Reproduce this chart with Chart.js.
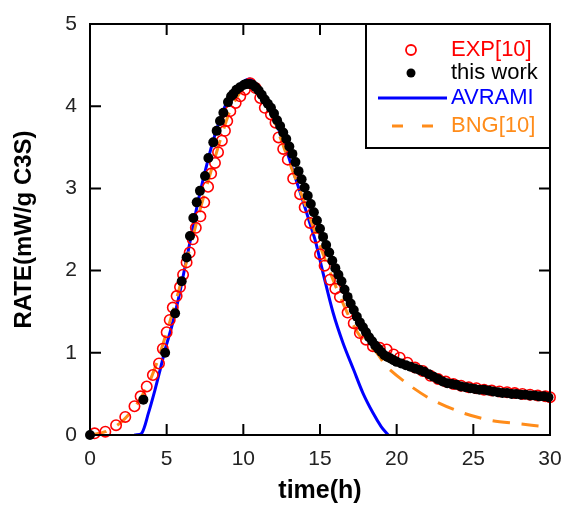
<!DOCTYPE html>
<html>
<head>
<meta charset="utf-8">
<script src="https://cdn.jsdelivr.net/npm/chart.js"></script>
<style>
  html, body { margin: 0; padding: 0; background: #fff; }
  #wrap { width: 563px; height: 506px; }
</style>
</head>
<body>
<div id="wrap"><canvas id="rateChart" width="563" height="506"></canvas></div>
<script>
// datos (t en h, rate en mW/g C3S)
const expT = [0.3, 1.0, 1.7, 2.3, 2.9, 3.3, 3.7, 4.1, 4.5, 4.75, 5.0, 5.2, 5.4, 5.65, 5.87, 6.07, 6.3, 6.5, 6.7, 6.9, 7.2, 7.45, 7.7, 7.9, 8.15, 8.35, 8.6, 8.8, 8.95, 9.15, 9.5, 9.8, 10.1, 10.45, 10.8, 11.1, 11.4, 11.8, 12.1, 12.3, 12.6, 12.9, 13.25, 13.7, 14.0, 14.35, 14.7, 15.0, 15.3, 15.65, 16.0, 16.3, 16.8, 17.2, 17.6, 18.0, 18.45, 18.9, 19.35, 19.8, 20.2, 20.7, 21.2, 21.7, 22.2, 22.7, 23.2, 23.7, 24.2, 24.7, 25.2, 25.7, 26.2, 26.7, 27.2, 27.7, 28.2, 28.7, 29.2, 29.7, 30.0];
const expRate = [0.02, 0.04, 0.12, 0.22, 0.35, 0.47, 0.59, 0.73, 0.87, 1.05, 1.25, 1.40, 1.55, 1.69, 1.80, 1.95, 2.10, 2.22, 2.38, 2.52, 2.66, 2.83, 3.02, 3.18, 3.31, 3.44, 3.58, 3.70, 3.82, 3.94, 4.04, 4.12, 4.20, 4.28, 4.22, 4.10, 3.98, 3.90, 3.80, 3.62, 3.48, 3.35, 3.12, 2.93, 2.77, 2.58, 2.40, 2.20, 2.06, 1.89, 1.78, 1.68, 1.49, 1.36, 1.24, 1.16, 1.08, 1.06, 1.04, 0.98, 0.94, 0.88, 0.82, 0.78, 0.72, 0.68, 0.65, 0.62, 0.60, 0.58, 0.57, 0.55, 0.54, 0.53, 0.52, 0.51, 0.50, 0.49, 0.48, 0.47, 0.46];

const workT = [0, 3.48, 4.9, 5.55, 5.98, 6.3, 6.52, 6.74, 6.96, 7.17, 7.5, 7.72, 8.04, 8.26, 8.48, 8.7, 9.0, 9.2, 9.35, 9.55, 9.78, 10.05, 10.2,
  10.4, 10.6, 10.8, 11.0, 11.2, 11.4, 11.6, 11.8, 12.0, 12.2, 12.4, 12.6, 12.8, 13.0, 13.2, 13.4, 13.6, 13.8, 14.0, 14.2, 14.4, 14.6, 14.8,
  15.0, 15.2, 15.4, 15.6, 15.8, 16.0, 16.2, 16.4, 16.6, 16.8, 17.0, 17.2, 17.4, 17.6, 17.8, 18.0, 18.2, 18.4, 18.6, 18.8, 19.0, 19.2, 19.4,
  19.6, 19.8, 20.0, 20.3, 20.6, 20.9, 21.2, 21.5, 21.8, 22.1, 22.4, 22.7, 23.0, 23.3, 23.6, 23.9, 24.2, 24.5, 24.8, 25.1, 25.4, 25.7, 26.0,
  26.3, 26.6, 26.9, 27.2, 27.5, 27.8, 28.1, 28.4, 28.7, 29.0, 29.3, 29.6, 29.9];
const workRate = [0, 0.43, 1.0, 1.48, 1.87, 2.16, 2.42, 2.64, 2.83, 2.97, 3.15, 3.37, 3.56, 3.70, 3.82, 3.92, 4.05, 4.12, 4.15, 4.20, 4.23, 4.26, 4.27,
  4.27, 4.26, 4.23, 4.19, 4.14, 4.08, 4.03, 3.98, 3.91, 3.83, 3.76, 3.68, 3.60, 3.51, 3.42, 3.32, 3.21, 3.11, 3.01, 2.91, 2.81, 2.71, 2.61,
  2.51, 2.41, 2.31, 2.22, 2.12, 2.03, 1.95, 1.87, 1.77, 1.68, 1.60, 1.52, 1.44, 1.37, 1.31, 1.25, 1.19, 1.14, 1.09, 1.05, 1.01, 0.97, 0.95,
  0.93, 0.91, 0.89, 0.87, 0.85, 0.83, 0.81, 0.79, 0.77, 0.74, 0.71, 0.68, 0.65, 0.63, 0.62, 0.61, 0.59, 0.58, 0.57, 0.56, 0.55, 0.55, 0.54,
  0.53, 0.52, 0.51, 0.51, 0.50, 0.50, 0.49, 0.49, 0.48, 0.48, 0.47, 0.47, 0.46];

const avramiT = [2.9, 3.37, 3.8, 4.24, 4.57, 4.9, 5.33, 5.76, 6.2, 6.6, 7.0, 7.5, 8.0, 8.5, 9.0, 9.5, 10.0, 10.4, 10.8, 11.3, 11.8, 12.3, 12.8, 13.3, 13.8, 14.3, 14.7, 15.2, 15.85, 16.5, 17.2, 17.8, 18.45, 19.0, 19.45];
const avramiRate = [0, 0.02, 0.26, 0.55, 0.79, 1.04, 1.32, 1.65, 2.05, 2.42, 2.80, 3.20, 3.56, 3.85, 4.08, 4.22, 4.30, 4.33, 4.28, 4.15, 3.97, 3.72, 3.47, 3.18, 2.90, 2.60, 2.36, 1.97, 1.49, 1.12, 0.79, 0.51, 0.27, 0.10, 0];

const bngT = [0, 1, 2, 3, 4, 5, 6, 7, 8, 9, 9.5, 10, 10.5, 11, 11.5, 12, 13, 14, 15, 16, 17, 17.7, 18.7, 19.35, 20.65, 22.2, 24.3, 26.1, 27.8, 29.8, 30];
const bngRate = [0, 0.04, 0.15, 0.36, 0.70, 1.25, 1.90, 2.62, 3.28, 3.88, 4.08, 4.22, 4.28, 4.20, 4.03, 3.82, 3.32, 2.82, 2.30, 1.82, 1.40, 1.18, 1.00, 0.83, 0.63, 0.44, 0.27, 0.18, 0.14, 0.10, 0.10];

const xTicks = [0, 5, 10, 15, 20, 25, 30];
const yTicks = [0, 1, 2, 3, 4, 5];

const FONT = '"Liberation Sans", Arial, sans-serif';
const toXY = (ts, vs) => ts.map((t, i) => ({ x: t, y: vs[i] }));

// marco con marcas hacia adentro en los cuatro lados
const frame = {
  id: 'frame',
  afterDatasetsDraw(chart) {
    const { ctx, chartArea: a, scales: { x, y } } = chart;
    const len = 11;
    ctx.save();
    ctx.strokeStyle = '#000';
    ctx.lineWidth = 2;
    ctx.beginPath();
    xTicks.forEach(v => {
      const px = x.getPixelForValue(v);
      ctx.moveTo(px, a.bottom); ctx.lineTo(px, a.bottom - len);
      ctx.moveTo(px, a.top); ctx.lineTo(px, a.top + len);
    });
    yTicks.forEach(v => {
      const py = y.getPixelForValue(v);
      ctx.moveTo(a.left, py); ctx.lineTo(a.left + len, py);
      ctx.moveTo(a.right, py); ctx.lineTo(a.right - len, py);
    });
    ctx.stroke();
    ctx.strokeRect(a.left, a.top, a.right - a.left, a.bottom - a.top);
    ctx.restore();
  }
};

// leyenda dibujada en la esquina superior derecha
const boxLegend = {
  id: 'boxLegend',
  afterDraw(chart) {
    const { ctx, chartArea: a } = chart;
    const left = a.right - 184, top = a.top, w = 184, h = 124;
    const mx = left + 45, tx = left + 85;
    ctx.save();
    ctx.fillStyle = '#fff';
    ctx.fillRect(left, top, w, h);
    ctx.strokeStyle = '#000';
    ctx.lineWidth = 2;
    ctx.strokeRect(left, top, w, h);

    const rows = [
      { label: 'EXP[10]', color: '#ff0000', y: top + 26 },
      { label: 'this work', color: '#000000', y: top + 49 },
      { label: 'AVRAMI', color: '#0000ff', y: top + 74 },
      { label: 'BNG[10]', color: '#ff8c1a', y: top + 102 }
    ];
    // marcadores
    ctx.beginPath();
    ctx.arc(mx, rows[0].y, 5, 0, Math.PI * 2);
    ctx.strokeStyle = '#ff0000'; ctx.lineWidth = 1.8; ctx.stroke();
    ctx.beginPath();
    ctx.arc(mx, rows[1].y, 4.5, 0, Math.PI * 2);
    ctx.fillStyle = '#000'; ctx.fill();
    ctx.beginPath();
    ctx.moveTo(left + 12, rows[2].y); ctx.lineTo(left + 81, rows[2].y);
    ctx.strokeStyle = '#0000ff'; ctx.lineWidth = 3; ctx.stroke();
    ctx.beginPath();
    ctx.setLineDash([11, 19]);
    ctx.moveTo(left + 26, rows[3].y); ctx.lineTo(left + 79, rows[3].y);
    ctx.strokeStyle = '#ff8c1a'; ctx.lineWidth = 3; ctx.stroke();
    ctx.setLineDash([]);

    ctx.font = '22px ' + FONT;
    ctx.textBaseline = 'middle';
    ctx.textAlign = 'left';
    rows.forEach(r => { ctx.fillStyle = r.color; ctx.fillText(r.label, tx, r.y); });
    ctx.restore();
  }
};

const ctx = document.getElementById('rateChart').getContext('2d');
new Chart(ctx, {
  type: 'scatter',
  data: {
    datasets: [
      {
        label: 'this work',
        data: toXY(workT, workRate),
        pointRadius: 5,
        pointBackgroundColor: '#000',
        pointBorderColor: '#000',
        pointBorderWidth: 0,
        showLine: false,
        clip: false,
        order: 0
      },
      {
        label: 'EXP[10]',
        data: toXY(expT, expRate),
        pointRadius: 5.2,
        pointBackgroundColor: 'rgba(0,0,0,0)',
        pointBorderColor: '#ff0000',
        pointBorderWidth: 1.6,
        showLine: false,
        clip: false,
        order: 1
      },
      {
        label: 'BNG[10]',
        data: toXY(bngT, bngRate),
        showLine: true,
        borderColor: '#ff8c1a',
        borderWidth: 3,
        borderDash: [17, 12],
        pointRadius: 0,
        tension: 0.3,
        order: 2
      },
      {
        label: 'AVRAMI',
        data: toXY(avramiT, avramiRate),
        showLine: true,
        borderColor: '#0000ff',
        borderWidth: 3,
        pointRadius: 0,
        tension: 0.3,
        order: 3
      }
    ]
  },
  options: {
    responsive: false,
    animation: false,
    layout: { padding: { left: 0, top: 24, right: 13, bottom: 0 } },
    plugins: { legend: { display: false }, tooltip: { enabled: false } },
    scales: {
      x: {
        type: 'linear',
        min: 0, max: 30,
        afterBuildTicks: s => { s.ticks = xTicks.map(v => ({ value: v })); },
        afterFit: s => { s.height = 71; s.paddingLeft = 0; s.paddingRight = 0; },
        grid: { display: false, drawTicks: false },
        border: { display: false },
        ticks: { padding: 12, color: '#222', font: { family: FONT, size: 21 } },
        title: {
          display: true, text: 'time(h)', color: '#000',
          font: { family: FONT, size: 25, weight: 'bold' },
          padding: { top: 0, bottom: 0 }
        }
      },
      y: {
        type: 'linear',
        min: 0, max: 5,
        afterBuildTicks: s => { s.ticks = yTicks.map(v => ({ value: v })); },
        afterFit: s => { s.width = 90; s.paddingTop = 0; s.paddingBottom = 0; },
        grid: { display: false, drawTicks: false },
        border: { display: false },
        ticks: { padding: 13, color: '#222', font: { family: FONT, size: 21 } },
        title: {
          display: true, text: 'RATE(mW/g C3S)', color: '#000',
          font: { family: FONT, size: 24, weight: 'bold' },
          padding: { top: 10, bottom: 0 }
        }
      }
    }
  },
  plugins: [frame, boxLegend]
});
</script>
</body>
</html>
